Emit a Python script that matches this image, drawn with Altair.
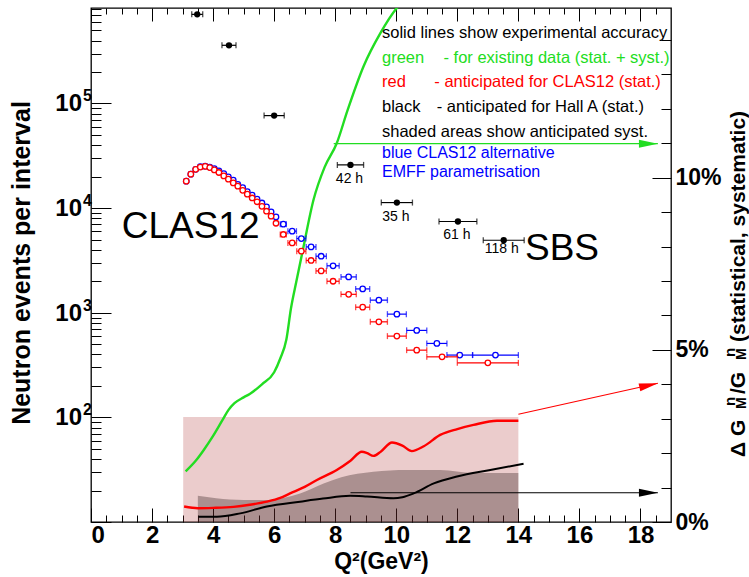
import altair as alt
import pandas as pd

FONT = "Liberation Sans"

# ---------------- data ----------------
# Hall A / SBS anticipated counts
sbs_q2 = [3.48, 4.52, 6.0, 8.5, 10.02, 12.02, 13.52]
sbs_half = [0.18, 0.23, 0.33, 0.43, 0.51, 0.62, 0.67]
sbs_events = [711000, 360000, 76600, 25900, 11300, 7450, 4930]
sbs_hours = ["", "", "", "42 h", "35 h", "61 h", "118 h"]

# CLAS12 counts (red: standard, blue: alternative EMFF parametrisation)
clas_q2 = [3.12, 3.27, 3.43, 3.58, 3.74, 3.89, 4.04, 4.19, 4.35, 4.5,
           4.66, 4.81, 4.97, 5.12, 5.28, 5.44, 5.6, 5.75, 5.9, 6.06,
           6.3, 6.59, 6.89, 7.21, 7.54, 7.93, 8.44, 8.9, 9.43, 10.02, 10.67]
clas_half = [0.078, 0.078, 0.078, 0.078, 0.078, 0.078, 0.078, 0.078, 0.078, 0.078,
             0.078, 0.078, 0.078, 0.078, 0.078, 0.078, 0.078, 0.078, 0.078, 0.078,
             0.1, 0.14, 0.15, 0.16, 0.17, 0.2, 0.25, 0.23, 0.28, 0.31, 0.33]
red_events = [18100, 21100, 23500, 24700, 25100, 24400, 23200, 21900, 20300, 18900,
              17400, 16200, 14800, 13600, 12500, 11500, 10400, 9340, 8370, 7170,
              5600, 4650, 3880, 3160, 2510, 2000, 1500, 1130, 819, 598, 439]
blue_events = [18100, 21100, 23500, 24900, 25200, 24700, 23900, 22700, 21400, 19900,
               18500, 16900, 15700, 14400, 13300, 12200, 11200, 10300, 9200, 8240,
               7020, 6020, 5120, 4260, 3470, 2810, 2200, 1690, 1320, 970, 678]
red_tail_q2 = [11.5, 13.0]
red_tail_half = [0.5, 1.0]
red_tail_events = [379, 332]
blue_tail_q2 = [11.33, 12.08, 13.25]
blue_tail_half = [0.33, 0.42, 0.75]
blue_tail_events = [509, 394, 394]

# accuracy curves (right axis, %)
green_q2 = [3.1, 3.45, 3.7, 4.0, 4.3, 4.5, 4.7, 5.0, 5.2, 5.6, 6.0, 6.2, 6.4, 6.55,
            6.73, 6.94, 7.29, 7.65, 8.05, 8.4, 8.93, 9.48, 10.02, 10.2]
green_pct = [1.47, 1.8, 2.1, 2.5, 2.95, 3.25, 3.45, 3.62, 3.72, 4.0, 4.35, 4.75, 5.3, 6.2,
             7.0, 7.9, 9.36, 10.3, 11.0, 11.95, 13.24, 14.2, 14.93, 15.1]
red_line_q2 = [3.05, 3.5, 4.0, 4.67, 5.2, 5.76, 6.2, 6.52, 7.0, 7.4, 8.05, 8.5, 8.87,
               9.05, 9.25, 9.5, 9.86, 10.2, 10.51, 10.9, 11.44, 12.0, 12.53, 13.3, 14.0]
red_line_pct = [0.45, 0.40, 0.41, 0.44, 0.5, 0.59, 0.7, 0.83, 1.02, 1.22, 1.51, 1.78, 2.04,
                2.0, 1.92, 2.05, 2.31, 2.22, 2.06, 2.2, 2.53, 2.7, 2.82, 2.94, 2.94]
black_line_q2 = [3.52, 4.12, 4.89, 5.76, 6.85, 7.6, 8.49, 9.04, 9.91, 10.2, 10.57, 11.23,
                 11.99, 13.08, 14.17]
black_line_pct = [0.15, 0.15, 0.25, 0.45, 0.59, 0.68, 0.76, 0.74, 0.69, 0.72, 0.83, 1.12,
                  1.32, 1.51, 1.69]

# anticipated systematics (shaded)
red_band_q2 = [3.02]
red_band_q2_end = [14.0]
red_band_pct = [3.05]
black_band_q2 = [3.5, 4.1, 5.0, 5.76, 6.3, 6.85, 7.62, 8.2, 9.25, 10.35, 11.44, 12.53, 14.0]
black_band_pct = [0.76, 0.69, 0.64, 0.64, 0.7, 0.83, 1.12, 1.3, 1.46, 1.51, 1.51, 1.42, 1.42]

# arrows pointing at the right axis
arrow_color = ["#22dd22", "#ff0000", "#000000"]
arrow_q2_from = [7.95, 14.0, 8.5]
arrow_pct_from = [10.99, 3.13, 0.85]
arrow_q2_to = [18.57, 18.57, 18.57]
arrow_pct_to = [10.99, 4.03, 0.85]
arrow_head_q2 = [18.26, 18.27, 18.26]
arrow_head_pct = [10.99, 3.97, 0.85]
arrow_head_angle = [0, 347.4, 0]

# axis ticks / labels
x_major = [0, 2, 4, 6, 8, 10, 12, 14, 16, 18]
x_minor = [0.5, 1, 1.5, 2.5, 3, 3.5, 4.5, 5, 5.5, 6.5, 7, 7.5, 8.5, 9, 9.5, 10.5, 11,
           11.5, 12.5, 13, 13.5, 14.5, 15, 15.5, 16.5, 17, 17.5, 18.5]
y_decades = [10, 100, 1000, 10000, 100000]
y_label_values = [100, 1000, 10000, 100000]
y_label_exponents = ["2", "3", "4", "5"]
y_minor = [20, 30, 40, 50, 60, 70, 80, 90, 200, 300, 400, 500, 600, 700, 800, 900,
           2000, 3000, 4000, 5000, 6000, 7000, 8000, 9000, 20000, 30000, 40000, 50000,
           60000, 70000, 80000, 90000, 200000, 300000, 400000, 500000, 600000, 700000, 800000]
pct_major = [0, 5, 10, 15]
pct_labels = [0, 5, 10]
pct_minor = [1, 2, 3, 4, 6, 7, 8, 9, 11, 12, 13, 14]

# ---------------- scales ----------------
XS = alt.Scale(domain=[0, 19], nice=False, zero=False)
LS = alt.Scale(type="log", domain=[10, 818000], nice=False)
PS = alt.Scale(domain=[0, 14.93], nice=False, zero=False)


def xq(field):
    return alt.X(field, type="quantitative", scale=XS, axis=None)


def yl(field):
    return alt.Y(field, type="quantitative", scale=LS, axis=None)


def yp(field):
    return alt.Y(field, type="quantitative", scale=PS, axis=None)


layers = []

# shaded systematics
rb = pd.DataFrame({"a": red_band_q2, "b": red_band_q2_end, "t": red_band_pct, "z": [0]})
layers.append(alt.Chart(rb).mark_rect(color="#b03a3a", opacity=0.26).encode(
    x=xq("a"), x2="b", y=yp("t"), y2="z"))
bb = pd.DataFrame({"q2": black_band_q2, "pct": black_band_pct})
layers.append(alt.Chart(bb).mark_area(color="#2a1414", opacity=0.33, interpolate="monotone").encode(
    x=xq("q2"), y=yp("pct")))

# accuracy curves
for q, p, c, w in [(green_q2, green_pct, "#22dd22", 2.4),
                   (red_line_q2, red_line_pct, "#ff0000", 2.4),
                   (black_line_q2, black_line_pct, "#000000", 2.0)]:
    d = pd.DataFrame({"q2": q, "pct": p})
    layers.append(alt.Chart(d).mark_line(color=c, strokeWidth=w, interpolate="monotone", clip=True).encode(
        x=xq("q2"), y=yp("pct")))

# arrows
ad = pd.DataFrame({"x1": arrow_q2_from, "y1": arrow_pct_from, "x2": arrow_q2_to, "y2": arrow_pct_to,
                   "hx": arrow_head_q2, "hy": arrow_head_pct, "ang": arrow_head_angle, "c": arrow_color})
layers.append(alt.Chart(ad).mark_rule(strokeWidth=1.2).encode(
    x=xq("x1"), y=yp("y1"), x2="x2", y2="y2", color=alt.Color("c:N", scale=None)))
layers.append(alt.Chart(ad).mark_point(shape="M-1,-0.42L1,0L-1,0.42Z", filled=True, size=361, opacity=1).encode(
    x=xq("hx"), y=yp("hy"), angle=alt.Angle("ang:Q", scale=None), color=alt.Color("c:N", scale=None)))


def points(q, half, ev, color, filled_marker=False, size=30):
    d = pd.DataFrame({"q2": q, "half": half, "events": ev})
    d["lo"] = d["q2"] - d["half"]
    d["hi"] = d["q2"] + d["half"]
    base = alt.Chart(d)
    caps = base.transform_filter("datum.half > 0.09")
    out = [
        caps.mark_rule(color=color, strokeWidth=1.2).encode(x=xq("lo"), x2="hi", y=yl("events")),
        caps.mark_tick(color=color, orient="vertical", size=6, thickness=1.3).encode(x=xq("lo"), y=yl("events")),
        caps.mark_tick(color=color, orient="vertical", size=6, thickness=1.3).encode(x=xq("hi"), y=yl("events")),
    ]
    if filled_marker:
        out.append(base.mark_point(shape="circle", filled=True, color=color, size=size, opacity=1).encode(
            x=xq("q2"), y=yl("events")))
    else:
        out.append(base.mark_point(shape="circle", fill="white", fillOpacity=1, stroke=color,
                                   strokeWidth=1.3, size=size, opacity=1).encode(x=xq("q2"), y=yl("events")))
    return out


layers += points(clas_q2 + blue_tail_q2, clas_half + blue_tail_half, blue_events + blue_tail_events, "#0000ff")
layers += points(clas_q2 + red_tail_q2, clas_half + red_tail_half, red_events + red_tail_events, "#ff0000")
layers += points(sbs_q2, sbs_half, sbs_events, "#000000", filled_marker=True, size=40)

# hour labels below the SBS points
hd = pd.DataFrame({"q2": sbs_q2, "events": sbs_events, "h": sbs_hours})
layers.append(alt.Chart(hd).transform_filter("datum.h != '' && datum.h != '118 h'").mark_text(
    font=FONT, fontSize=14, dy=14, dx=-1, baseline="middle").encode(x=xq("q2"), y=yl("events"), text="h:N"))
layers.append(alt.Chart(hd).transform_filter("datum.h == '118 h'").mark_text(
    font=FONT, fontSize=14, dy=9, dx=-2, baseline="middle").encode(x=xq("q2"), y=yl("events"), text="h:N"))

one = pd.DataFrame({"v": [1]})


def label(txt, x, y, size=16.5, color="black", weight="normal", align="left", baseline="middle", angle=0):
    kw = dict(text=txt, font=FONT, fontSize=size, color=color, fontWeight=weight, align=align,
              baseline=baseline)
    if angle:
        kw["angle"] = angle
    return alt.Chart(one).mark_text(**kw).encode(x=alt.value(x), y=alt.value(y))


layers += [
    label("solid lines show experimental accuracy", 291, 25),
    label("green", 291, 50, color="#22dd22"),
    label("- for existing data (stat. + syst.)", 352.5, 50, color="#22dd22"),
    label("red", 291, 74, color="#ff0000"),
    label("- anticipated for CLAS12 (stat.)", 343.3, 74, color="#ff0000"),
    label("black", 291, 99),
    label("- anticipated for Hall A (stat.)", 345.7, 99),
    label("shaded areas show anticipated syst.", 291, 124),
    label("blue CLAS12 alternative", 291, 145, size=16, color="#0000ff"),
    label("EMFF parametrisation", 291, 164, size=16, color="#0000ff"),
    label("CLAS12", 30.7, 230, size=37, baseline="alphabetic"),
    label("SBS", 434, 252, size=37, baseline="alphabetic"),
    # left axis title
    label("Neutron events per interval", -69, 255, size=25, weight="bold", align="center", angle=270),
    # right axis title pieces
    label("\u0394", 653.5, 449, size=21, weight="bold", baseline="alphabetic", angle=270),
    label("G", 653.5, 428, size=21, weight="bold", baseline="alphabetic", angle=270),
    label("n", 644, 398, size=15, weight="bold", baseline="alphabetic", angle=270),
    label("M", 655, 401, size=14, weight="bold", baseline="alphabetic", angle=270),
    label("/G", 653.5, 386, size=21, weight="bold", baseline="alphabetic", angle=270),
    label("n", 644, 349, size=15, weight="bold", baseline="alphabetic", angle=270),
    label("M", 655, 352, size=14, weight="bold", baseline="alphabetic", angle=270),
    label("(statistical, systematic)", 653.5, 334, size=21, weight="bold", baseline="alphabetic", angle=270),
]

# left log-axis labels 10^n
yld = pd.DataFrame({"v": y_label_values, "e": y_label_exponents})
layers.append(alt.Chart(yld).mark_text(text="10", font=FONT, fontSize=24, fontWeight="bold", align="right",
                                       baseline="middle", dy=1).encode(x=alt.value(-9), y=yl("v")))
layers.append(alt.Chart(yld).mark_text(font=FONT, fontSize=16, fontWeight="bold", align="left",
                                       baseline="middle", dy=-7).encode(x=alt.value(-8), y=yl("v"), text="e:N"))

# ---------------- axes (inward ticks via negative offsets) ----------------
dummy = pd.DataFrame({"v": [1.0], "c": [100.0], "p": [1.0]})
NOAX = dict(grid=False, labels=False, domain=False, title=None, tickColor="black", tickWidth=1)


def xaxis(**kw):
    return alt.Chart(dummy).mark_point(opacity=0).encode(
        x=alt.X("v:Q", scale=XS, axis=alt.Axis(**kw)))


def ylaxis(**kw):
    return alt.Chart(dummy).mark_point(opacity=0).encode(
        y=alt.Y("c:Q", scale=LS, axis=alt.Axis(**kw)))


def ypaxis(**kw):
    return alt.Chart(dummy).mark_point(opacity=0).encode(
        y=alt.Y("p:Q", scale=PS, axis=alt.Axis(**kw)))


layers += [
    xaxis(orient="bottom", values=x_major, grid=False, ticks=False, tickSize=0, domain=False,
          labelFont=FONT, labelFontSize=24, labelFontWeight="bold", labelColor="black", labelPadding=1,
          title="Q\u00b2(GeV\u00b2)", titleFont=FONT, titleFontSize=23, titleFontWeight="bold",
          titleColor="black", titlePadding=3),
    xaxis(orient="bottom", values=x_major, offset=-14, tickSize=14, **NOAX),
    xaxis(orient="bottom", values=x_minor, offset=-7, tickSize=7, **NOAX),
    xaxis(orient="top", values=x_major, offset=-13, tickSize=13, **NOAX),
    xaxis(orient="top", values=x_minor, offset=-6, tickSize=6, **NOAX),
    ylaxis(orient="left", values=y_decades, offset=-20, tickSize=20, **NOAX),
    ylaxis(orient="left", values=y_minor, offset=-10, tickSize=10, **NOAX),
    ypaxis(orient="right", values=pct_labels, grid=False, ticks=False, tickSize=0, domain=False,
           labelExpr="datum.value + '%'", labelFont=FONT, labelFontSize=23, labelFontWeight="bold",
           labelColor="black", labelPadding=4, title=None),
    ypaxis(orient="right", values=pct_major, offset=-19, tickSize=19, **NOAX),
    ypaxis(orient="right", values=pct_minor, offset=-10, tickSize=10, **NOAX),
]

chart = alt.layer(*layers).resolve_scale(y="independent").resolve_axis(
    x="independent", y="independent"
).properties(
    width=580, height=514,
    autosize=alt.AutoSizeParams(type="none"),
    padding={"left": 91, "top": 8, "right": 78, "bottom": 55},
    background="white",
).configure_view(stroke="black", strokeWidth=1.3)

chart.save("out.html", embed_options={"renderer": "svg", "actions": False})
